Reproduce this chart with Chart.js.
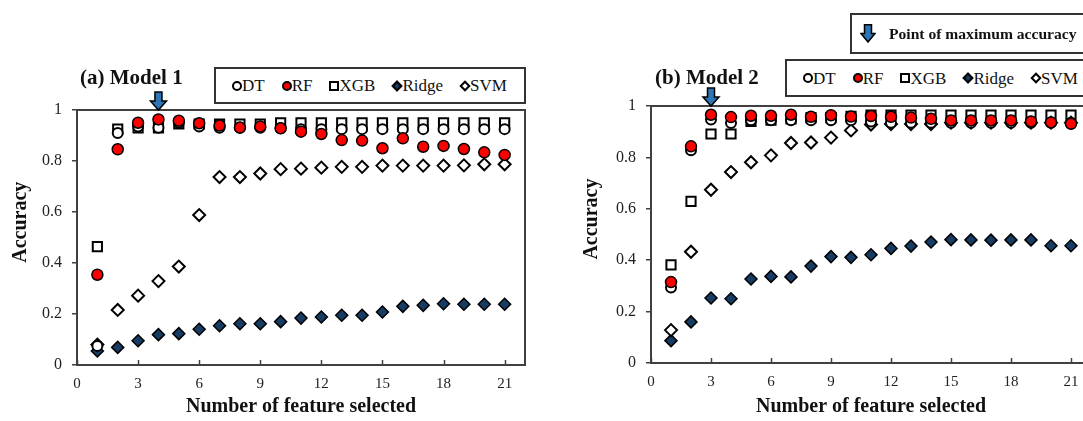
<!DOCTYPE html>
<html>
<head>
<meta charset="utf-8">
<script src="https://cdn.jsdelivr.net/npm/chart.js@4"></script>
<style>
  body { margin: 0; width: 1083px; height: 421px; overflow: hidden; background: #fff; position: relative;
         font-family: "Liberation Serif", "Times New Roman", serif; color: #111; }
  canvas { position: absolute; top: 0; }
  .title { position: absolute; font-weight: bold; font-size: 21px; line-height: 24px; white-space: nowrap; }
  .legend { position: absolute; box-sizing: border-box; border: 2px solid #333; display: flex; align-items: center;
            gap: 17px; padding-left: 16px; font-size: 17px; line-height: 1; white-space: nowrap; background: #fff; }
  .item { display: flex; align-items: center; }
  .mk { display: inline-block; box-sizing: border-box; width: 10px; height: 10px; border: 2px solid #000; background: #fff; }
  .mk.circle { border-radius: 50%; }
  .mk.red { background: #ff0000; }
  .mk.diamond { width: 8px; height: 8px; transform: rotate(45deg); margin: 0 1px; }
  .mk.navy { background: #173c64; }
  .maxbox { position: absolute; box-sizing: border-box; left: 850px; top: 13px; width: 260px; height: 41px;
            border: 2px solid #333; display: flex; align-items: center; padding-left: 8px;
            font-weight: bold; font-size: 15.6px; white-space: nowrap; }
  .maxbox svg { margin-right: 13px; }
</style>
</head>
<body>
<canvas id="chart1" width="545" height="421" style="left:0"></canvas>
<canvas id="chart2" width="537" height="421" style="left:574px"></canvas>

<div class="title" style="left:80px; top:65px">(a) Model 1</div>
<div class="title" style="left:655px; top:65px">(b) Model 2</div>

<div class="legend" style="left:214px; top:67px; width:312px; height:37px">
  <span class="item"><span class="mk circle"></span>DT</span>
  <span class="item"><span class="mk circle red"></span>RF</span>
  <span class="item"><span class="mk"></span>XGB</span>
  <span class="item"><span class="mk diamond navy"></span>Ridge</span>
  <span class="item"><span class="mk diamond"></span>SVM</span>
</div>
<div class="legend" style="left:785px; top:59px; width:330px; height:38px">
  <span class="item"><span class="mk circle"></span>DT</span>
  <span class="item"><span class="mk circle red"></span>RF</span>
  <span class="item"><span class="mk"></span>XGB</span>
  <span class="item"><span class="mk diamond navy"></span>Ridge</span>
  <span class="item"><span class="mk diamond"></span>SVM</span>
</div>
<div class="maxbox">
  <svg width="16" height="19" viewBox="0 0 16 19">
    <polygon points="4.5,0.75 11.5,0.75 11.5,9.5 15,9.5 8,18 1,9.5 4.5,9.5" fill="#2e75b6" stroke="#000" stroke-width="1.5"/>
  </svg>
  Point of maximum accuracy
</div>

<script>
const features = [1, 2, 3, 4, 5, 6, 7, 8, 9, 10, 11, 12, 13, 14, 15, 16, 17, 18, 19, 20, 21];
const xTicks = [0, 3, 6, 9, 12, 15, 18, 21];
const yTicks = [0, 0.2, 0.4, 0.6, 0.8, 1];
const yTickLabels = ["0", "0.2", "0.4", "0.6", "0.8", "1"];

// Model 1 accuracy per number of selected features
const dt1    = [0.075, 0.910, 0.935, 0.930, 0.950, 0.935, 0.930, 0.930, 0.930, 0.928, 0.925, 0.925, 0.925, 0.925, 0.925, 0.925, 0.925, 0.925, 0.925, 0.925, 0.925];
const rf1    = [0.354, 0.846, 0.950, 0.963, 0.958, 0.948, 0.939, 0.931, 0.935, 0.928, 0.915, 0.906, 0.882, 0.880, 0.850, 0.889, 0.856, 0.859, 0.847, 0.834, 0.824];
const xgb1   = [0.464, 0.925, 0.930, 0.930, 0.945, 0.945, 0.945, 0.945, 0.945, 0.950, 0.950, 0.950, 0.950, 0.950, 0.950, 0.950, 0.950, 0.950, 0.950, 0.950, 0.950];
const ridge1 = [0.055, 0.069, 0.095, 0.119, 0.123, 0.140, 0.154, 0.162, 0.162, 0.170, 0.184, 0.188, 0.195, 0.195, 0.208, 0.230, 0.234, 0.240, 0.238, 0.238, 0.238];
const svm1   = [0.080, 0.216, 0.272, 0.329, 0.386, 0.588, 0.737, 0.737, 0.751, 0.768, 0.770, 0.774, 0.777, 0.777, 0.782, 0.782, 0.782, 0.782, 0.783, 0.787, 0.787];
const best1 = 4;

// Model 2
const dt2    = [0.294, 0.828, 0.947, 0.934, 0.945, 0.945, 0.945, 0.945, 0.945, 0.945, 0.940, 0.935, 0.935, 0.935, 0.935, 0.935, 0.935, 0.935, 0.935, 0.935, 0.935];
const rf2    = [0.315, 0.843, 0.966, 0.957, 0.962, 0.962, 0.966, 0.958, 0.964, 0.959, 0.961, 0.958, 0.955, 0.950, 0.944, 0.944, 0.944, 0.944, 0.940, 0.936, 0.931];
const xgb2   = [0.382, 0.629, 0.891, 0.891, 0.940, 0.945, 0.950, 0.955, 0.955, 0.960, 0.965, 0.965, 0.965, 0.965, 0.965, 0.965, 0.965, 0.965, 0.965, 0.965, 0.965];
const ridge2 = [0.087, 0.160, 0.253, 0.250, 0.327, 0.337, 0.335, 0.377, 0.414, 0.411, 0.421, 0.446, 0.455, 0.471, 0.480, 0.479, 0.478, 0.479, 0.479, 0.456, 0.456];
const svm2   = [0.128, 0.433, 0.674, 0.743, 0.781, 0.808, 0.856, 0.858, 0.877, 0.905, 0.928, 0.930, 0.930, 0.930, 0.935, 0.935, 0.935, 0.935, 0.935, 0.935, 0.935];
const best2 = 3;

Chart.defaults.font.family = '"Liberation Serif", "Times New Roman", serif';
Chart.defaults.color = '#1a1a1a';

// marker look per model; higher order is drawn underneath
const markers = {
  DT:    { pointStyle: "circle",  pointRadius: 5,   backgroundColor: "#fff",    borderColor: "#000", pointBorderWidth: 2,   order: 1 },
  RF:    { pointStyle: "circle",  pointRadius: 5.5, backgroundColor: "#ff0000", borderColor: "#000", pointBorderWidth: 1.5, order: 0 },
  XGB:   { pointStyle: "rect",    pointRadius: 6.5, backgroundColor: "#fff",    borderColor: "#000", pointBorderWidth: 2,   order: 4 },
  Ridge: { pointStyle: "rectRot", pointRadius: 6,   backgroundColor: "#173c64", borderColor: "#000", pointBorderWidth: 1.5, order: 3 },
  SVM:   { pointStyle: "rectRot", pointRadius: 6,   backgroundColor: "#fff",    borderColor: "#000", pointBorderWidth: 2,   order: 2 },
};

// box around the plot plus small inward ticks on the x axis
const framePlugin = {
  id: "frame",
  beforeDatasetsDraw(chart) {
    const { ctx, chartArea: a, scales } = chart;
    ctx.save();
    ctx.strokeStyle = "#404040";
    ctx.lineWidth = 2;
    ctx.strokeRect(a.left, a.top, a.right - a.left, a.bottom - a.top);
    ctx.lineWidth = 1.5;
    scales.x.ticks.forEach(t => {
      const x = Math.round(scales.x.getPixelForValue(t.value)) + 0.5;
      ctx.beginPath();
      ctx.moveTo(x, a.bottom);
      ctx.lineTo(x, a.bottom - 5);
      ctx.stroke();
    });
    ctx.restore();
  },
};

// rotated y axis title, sitting a little above the middle
const yTitlePlugin = {
  id: "yTitle",
  afterDraw(chart, args, opts) {
    const { ctx, chartArea: a } = chart;
    ctx.save();
    ctx.translate(opts.x, a.top + (a.bottom - a.top) * 0.44);
    ctx.rotate(-Math.PI / 2);
    ctx.font = 'bold 20px "Liberation Serif", serif';
    ctx.fillStyle = "#111";
    ctx.textAlign = "center";
    ctx.textBaseline = "middle";
    ctx.fillText(opts.text, 0, 0);
    ctx.restore();
  },
};

// blue arrow pointing down at the best feature count
const bestArrowPlugin = {
  id: "bestArrow",
  afterDatasetsDraw(chart, args, opts) {
    const { ctx, chartArea: a, scales } = chart;
    const x = scales.x.getPixelForValue(opts.feature);
    const tip = a.top;
    ctx.save();
    ctx.beginPath();
    ctx.moveTo(x - 3.5, tip - 18);
    ctx.lineTo(x + 3.5, tip - 18);
    ctx.lineTo(x + 3.5, tip - 9);
    ctx.lineTo(x + 8, tip - 9);
    ctx.lineTo(x, tip);
    ctx.lineTo(x - 8, tip - 9);
    ctx.lineTo(x - 3.5, tip - 9);
    ctx.closePath();
    ctx.fillStyle = "#2e75b6";
    ctx.fill();
    ctx.strokeStyle = "#000";
    ctx.lineWidth = 1.5;
    ctx.stroke();
    ctx.restore();
  },
};

function buildChart(id, series, best, top, xHeight, titleX) {
  const datasets = Object.keys(series).map(name => ({
    label: name,
    data: features.map((f, i) => ({ x: f, y: series[name][i] })),
    ...markers[name],
  }));

  new Chart(document.getElementById(id), {
    type: "scatter",
    data: { datasets },
    plugins: [framePlugin, yTitlePlugin, bestArrowPlugin],
    options: {
      responsive: false,
      animation: false,
      layout: { padding: { left: 0, top: top, right: 20, bottom: 0 } },
      scales: {
        x: {
          min: 0,
          max: 22,
          afterBuildTicks: s => { s.ticks = xTicks.map(v => ({ value: v })); },
          afterFit: s => { s.height = xHeight; },
          grid: { display: false, drawTicks: false },
          border: { display: false },
          ticks: { padding: 10, font: { size: 15 }, color: "#222" },
          title: {
            display: true,
            text: "Number of feature selected",
            font: { size: 20, weight: "bold" },
            color: "#111",
            padding: { top: 0, bottom: 2 },
          },
        },
        y: {
          min: 0,
          max: 1,
          afterBuildTicks: s => { s.ticks = yTicks.map(v => ({ value: v })); },
          afterFit: s => { s.width = 77; },
          grid: { drawOnChartArea: false, drawTicks: true, tickLength: 5, color: "#404040", lineWidth: 1.5 },
          border: { display: false },
          ticks: { padding: 10, font: { size: 16 }, color: "#222", callback: (v, i) => yTickLabels[i] },
        },
      },
      plugins: {
        legend: { display: false },
        tooltip: { enabled: false },
        yTitle: { text: "Accuracy", x: titleX },
        bestArrow: { feature: best },
      },
    },
  });
}

buildChart("chart1", { DT: dt1, RF: rf1, XGB: xgb1, Ridge: ridge1, SVM: svm1 }, best1, 110, 56, 21);
buildChart("chart2", { DT: dt2, RF: rf2, XGB: xgb2, Ridge: ridge2, SVM: svm2 }, best2, 106, 58, 18);
</script>
</body>
</html>
